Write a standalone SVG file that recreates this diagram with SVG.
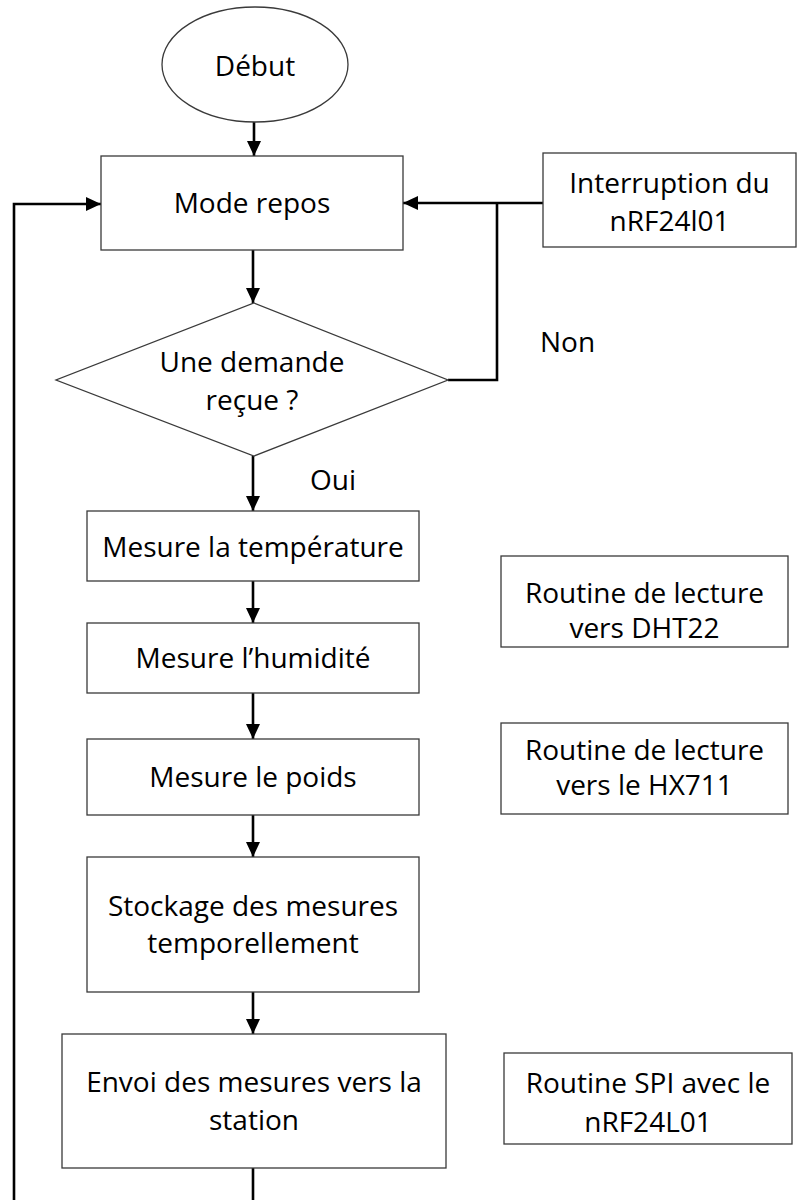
<svg xmlns="http://www.w3.org/2000/svg" width="797" height="1200" viewBox="0 0 797 1200">
<style>
.box{fill:#fff;stroke:#3a3a3a;stroke-width:1.3}
.t{font-family:"Open Sans","Liberation Sans",sans-serif;font-size:28px;fill:#000;text-anchor:middle}
.tl{font-family:"Open Sans","Liberation Sans",sans-serif;font-size:28px;fill:#000}
.c{fill:none;stroke:#000;stroke-width:2.6}
</style>
<defs>
<marker id="ah" markerUnits="userSpaceOnUse" markerWidth="15" markerHeight="14" refX="15" refY="7" orient="auto">
<path d="M0,0 L15,7 L0,14 z" fill="#000"/>
</marker>
</defs>
<rect width="797" height="1200" fill="#fff"/>
<g id="connectors">
<path class="c" d="M254,122 V156" marker-end="url(#ah)"/>
<path class="c" d="M253,250 V303" marker-end="url(#ah)"/>
<path class="c" d="M543,203 H403" marker-end="url(#ah)"/>
<path class="c" d="M448,380 H497 V203"/>
<path class="c" d="M253,456 V511" marker-end="url(#ah)"/>
<path class="c" d="M253,581 V623" marker-end="url(#ah)"/>
<path class="c" d="M253,693 V739" marker-end="url(#ah)"/>
<path class="c" d="M253,815 V857" marker-end="url(#ah)"/>
<path class="c" d="M253,992 V1034" marker-end="url(#ah)"/>
<path class="c" d="M253,1168 V1215 H14 V204 H101" marker-end="url(#ah)"/>
</g>
<g id="debut">
<ellipse class="box" cx="255" cy="64.5" rx="93" ry="57.5"/>
<text class="t" x="255" y="76">Début</text>
</g>
<g id="mode-repos">
<rect class="box" x="101" y="156" width="302" height="94"/>
<text class="t" x="252" y="213">Mode repos</text>
</g>
<g id="interruption">
<rect class="box" x="543" y="153" width="253" height="94"/>
<text class="t" x="669.5" y="193">Interruption du</text>
<text class="t" x="669.5" y="231">nRF24l01</text>
</g>
<g id="decision">
<polygon class="box" points="254,303 448,380 254,456 56,380"/>
<text class="t" x="252" y="372">Une demande</text>
<text class="t" x="252" y="410">reçue ?</text>
</g>
<g id="label-non"><text class="tl" x="540" y="352">Non</text></g>
<g id="label-oui"><text class="tl" x="310" y="490">Oui</text></g>
<g id="temperature">
<rect class="box" x="87" y="511" width="332" height="70"/>
<text class="t" x="253" y="557">Mesure la température</text>
</g>
<g id="humidite">
<rect class="box" x="87" y="623" width="332" height="70"/>
<text class="t" x="253" y="668">Mesure l’humidité</text>
</g>
<g id="poids">
<rect class="box" x="87" y="739" width="332" height="76"/>
<text class="t" x="253" y="787">Mesure le poids</text>
</g>
<g id="stockage">
<rect class="box" x="87" y="857" width="332" height="135"/>
<text class="t" x="253" y="916">Stockage des mesures</text>
<text class="t" x="253" y="953">temporellement</text>
</g>
<g id="envoi">
<rect class="box" x="62" y="1034" width="384" height="134"/>
<text class="t" x="254" y="1092">Envoi des mesures vers la</text>
<text class="t" x="254" y="1130">station</text>
</g>
<g id="routine-dht22">
<rect class="box" x="501" y="556" width="287" height="91"/>
<text class="t" x="644.5" y="603">Routine de lecture</text>
<text class="t" x="644.5" y="638">vers DHT22</text>
</g>
<g id="routine-hx711">
<rect class="box" x="501" y="723" width="287" height="91"/>
<text class="t" x="644.5" y="760">Routine de lecture</text>
<text class="t" x="644.5" y="795">vers le HX711</text>
</g>
<g id="routine-spi">
<rect class="box" x="504" y="1053" width="288" height="91"/>
<text class="t" x="648" y="1093">Routine SPI avec le</text>
<text class="t" x="648" y="1132">nRF24L01</text>
</g>
</svg>
